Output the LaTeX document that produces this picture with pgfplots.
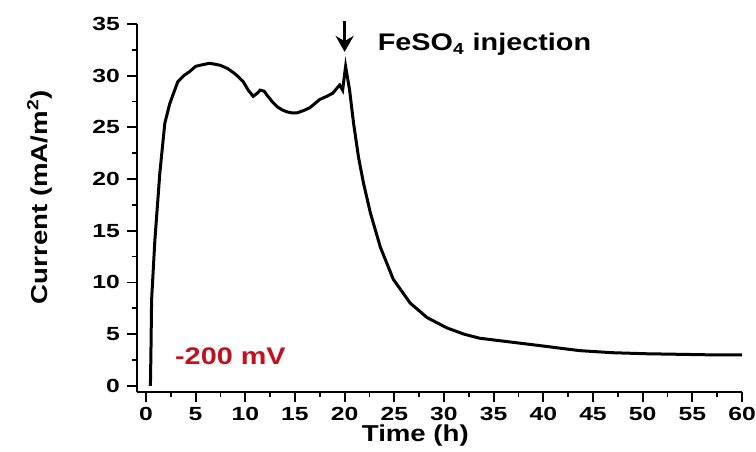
\documentclass[border=0pt]{standalone}
\usepackage{pgfplots}
\pgfplotsset{compat=1.18}
\usetikzlibrary{arrows.meta}
\usepackage{fontspec}
\setmainfont{Liberation Sans}[FakeStretch=1.2]
\newfontfamily\tickfont{Liberation Sans}[FakeStretch=1.3]
\definecolor{mvred}{RGB}{192,18,30}

\begin{document}
\begin{tikzpicture}
\begin{axis}[
    scale only axis,
    width=302.5pt, height=184pt,
    xmin=-0.9, xmax=60,
    ymin=-0.6, ymax=35,
    axis lines=left,
    axis line style={line width=1pt,-},
    clip=false,
    xtick={0,5,...,60},
    ytick={0,5,...,35},
    minor x tick num=1,
    minor y tick num=1,
    tick align=outside,
    major tick length=5pt,
    minor tick length=2.5pt,
    every tick/.style={black,line width=0.9pt},
    /pgf/number format/assume math mode=true,
    ticklabel style={font=\tickfont\bfseries\fontsize{9.5}{10}\selectfont},
    xticklabel style={yshift=1pt},
    xlabel={\bfseries Time (h)},
    ylabel={\bfseries Current (mA/m\textsuperscript{2})},
    label style={font=\bfseries\fontsize{11.5}{12}\selectfont},
    xlabel style={at={(rel axis cs:0.46,0)},anchor=north,yshift=-13pt},
    ylabel style={at={(rel axis cs:0,0.53)},anchor=south,xshift=0pt,yshift=39pt},
]
\addplot[black,line width=1.5pt] coordinates {
(0.45,0) (0.5,3) (0.57,8.3) (0.9,14.1) (1.4,20.6) (1.9,25.4) (2.4,27.3)
(3.2,29.4) (3.8,30.0) (4.4,30.4) (5.0,30.9) (5.4,31.0) (5.9,31.1) (6.4,31.2)
(7.0,31.1) (7.5,31.0) (8.2,30.7) (8.8,30.3) (9.3,29.9) (9.8,29.4)
(10.3,28.6) (10.8,28.0) (11.2,28.3) (11.5,28.6) (11.9,28.5)
(12.2,28.1) (12.7,27.5) (13.2,27.0) (13.7,26.7) (14.2,26.5) (14.7,26.4)
(15.2,26.4) (15.8,26.6) (16.5,26.9) (17.0,27.3) (17.5,27.7) (18.2,28.0)
(18.8,28.3) (19.5,29.1) (19.8,28.6) (20.1,30.9) (20.5,28.6)
(20.9,25.4) (21.4,22.1) (21.9,19.6) (22.6,16.7) (23.6,13.4)
(24.9,10.3) (26.6,8.0) (28.3,6.6) (30.3,5.6)
(32.0,5.0) (33.6,4.6) (35.3,4.4) (37.0,4.2) (38.7,4.0) (40.4,3.8)
(42.0,3.6) (43.7,3.4) (45.3,3.3) (47.0,3.2) (48.7,3.15) (50.4,3.1)
(53.5,3.05) (56.5,3.0) (60.0,3.0)
};
\draw[line width=1.3pt,-{Stealth[length=8pt,width=9pt]}] (axis cs:20,35.3) -- (axis cs:20,32.3);
\node[anchor=base west,font=\bfseries\fontsize{12}{13}\selectfont,inner sep=0pt] at (axis cs:23.3,32.4) {FeSO\textsubscript{4} injection};
\node[font=\bfseries\fontsize{12}{13}\selectfont,text=mvred] at (axis cs:8.5,2.9) {-200 mV};
\path (rel axis cs:0,0) ++(-68.5pt,-29.5pt) coordinate (ll);
\path (rel axis cs:1,1) ++(7pt,12pt) coordinate (ur);
\end{axis}
\pgfresetboundingbox
\path (ll) rectangle (ur);
\end{tikzpicture}
\end{document}
